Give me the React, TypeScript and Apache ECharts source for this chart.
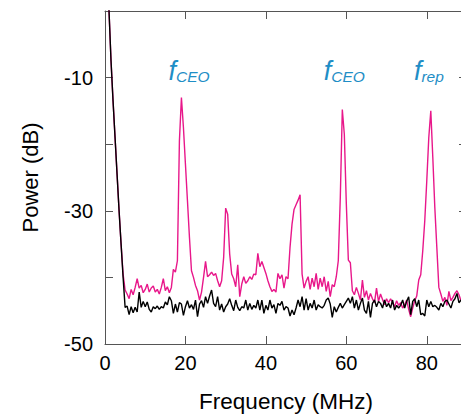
import React, { useEffect, useRef } from "react";
import * as echarts from "echarts";

// Sampling grid of the spectra (MHz)
const FREQ_START = 0;
const FREQ_STEP = 0.5;

// Power (dB) with the comb lines (pink)
const powerLocked = [
  12, 6, 0, -7.5, -13.5, -19, -24.5, -30, -35, -39.5,
  -41.9, -42.5, -43.2, -41.8, -42.6, -41.5, -40.2, -41.6, -41.2, -42.3,
  -41.8, -41, -42.2, -41.6, -41.3, -42.2, -41.8, -42.5, -41.5, -40.2,
  -42, -41.4, -42.3, -41.5, -38.8, -39.2, -37.5, -19.5, -13, -17.5,
  -23, -28.5, -34, -39, -40, -41.2, -42, -43.4, -42.2, -40,
  -37.6, -39.9, -39.6, -39.2, -39.7, -39.4, -40.5, -41.4, -40.5, -37,
  -29.6, -30.5, -36.5, -39.5, -40.2, -41.4, -38.1, -42.9, -41, -39.9,
  -40.9, -40.5, -39.9, -40.3, -39.5, -39.6, -36.4, -38.4, -37.6, -38.5,
  -39.4, -40.5, -41.4, -42.1, -41.8, -42.2, -39.4, -40.2, -39.6, -41.6,
  -39.9, -40.2, -35.5, -32, -29.8, -29.1, -28.4, -27.6, -39.5, -41.6,
  -40.6, -39.9, -41.8, -40.1, -41.4, -39.4, -41.8, -40.1, -41.4, -39.9,
  -42.1, -40.6, -42.9, -41.1, -41.4, -39.9, -37.5, -28, -14.8, -18.5,
  -29, -37.4, -37.8, -42, -42.6, -41.5, -42.4, -43.4, -40.4, -43,
  -42, -43.4, -42.4, -43.2, -43.8, -41.6, -43.6, -42.5, -43.3, -44.1,
  -43.2, -43.8, -43.2, -43.8, -44.4, -43.5, -44.2, -43.8, -44.6, -44.1,
  -43.4, -44.8, -45.9, -44.6, -43.5, -42.8, -40.4, -39.6, -36, -31.5,
  -25.5, -19, -15, -22, -29.5, -35.5, -41.5, -42.5, -43.6, -43,
  -44.2, -42.1, -43.5, -43, -42.4, -42, -42.6, -43.5, -42.8,
];

// Power (dB) background (black)
const powerBackground = [
  12, 6, 0, -7.5, -13.5, -19, -24.5, -30, -35, -40,
  -44.5, -44.3, -45.6, -44.4, -45.3, -44.5, -45.2, -42.2, -44.5, -43.6,
  -44.4, -43.7, -44.8, -45.2, -44.4, -44.7, -44.3, -44.8, -44.4, -44.6,
  -43.7, -44.1, -42.9, -43.5, -45.4, -44, -45.2, -43.8, -44, -45.7,
  -44.4, -43.5, -44.6, -44.1, -44.8, -43.4, -45.9, -44, -43.5, -44.5,
  -42.9, -43.9, -42.8, -41.9, -43.9, -44.4, -42.9, -44.9, -44, -45.2,
  -44.4, -44, -43.2, -44.2, -45, -43.4, -44.5, -45, -44.4, -44.6,
  -43.4, -44.9, -43.9, -44.8, -44.2, -44.6, -43.4, -44.9, -43.4, -45.4,
  -44.2, -44.9, -43.4, -44.6, -44.1, -45.4, -43.9, -44.2, -43.6, -44.9,
  -44.4, -44.6, -45.8, -44.9, -45.6, -44.6, -43.4, -44.4, -42.9, -44.9,
  -43.2, -44.9, -43.9, -44.6, -43.4, -44.9, -44.1, -44.4, -44.6, -44.2,
  -43.4, -43.1, -44, -46, -44.4, -45.2, -44.5, -43.9, -44.6, -44.1,
  -43.6, -43.1, -43.9, -42.9, -44.6, -43.4, -44.9, -43.9, -43.1, -44.9,
  -45.4, -43.6, -46, -43.9, -43.4, -44.4, -43.6, -43.9, -44.6, -43.4,
  -44.4, -43.9, -44.6, -43.4, -44.9, -44.2, -44.6, -44.2, -43.4, -44.6,
  -43.6, -42.9, -45.6, -43.6, -43.2, -44.4, -43.4, -45.6, -45.4, -45.8,
  -43.4, -44.4, -43.6, -44.4, -44.2, -44.5, -44.9, -43.9, -44.4, -43.6,
  -43.4, -44, -44.6, -43.6, -43.2, -42.4, -43.8, -43.4, -43.9,
];

// Peak annotations (anchor = baseline-left of the "f", in data units)
const annoSub = ["CEO", "CEO", "rep"];
const annoFreq = [15.8, 54.4, 76.8];
const annoPower = [-10.4, -10.4, -10.4];

const X_TICKS = { min: 0, max: 90, interval: 20 };
const Y_TICKS = { min: -50, max: 0, interval: 10 };

const FONT = "Liberation Sans, Arial, Helvetica, sans-serif";
const PINK = "#e8178a";
const BLUE = "#1f8ec6";
const AXIS = "#555555";

const toPairs = (vals: number[]) =>
  vals.map((v, i) => [FREQ_START + i * FREQ_STEP, v]);

export default function App() {
  const ref = useRef<HTMLDivElement>(null);

  useEffect(() => {
    if (!ref.current) return;
    const chart = echarts.init(ref.current, null, { renderer: "svg" });

    const axisLine = { show: true, onZero: false, lineStyle: { color: AXIS, width: 1 } };
    const axisTick = { show: true, inside: true, length: 8, lineStyle: { color: AXIS, width: 1 } };

    const option: any = {
      animation: false,
      backgroundColor: "#ffffff",
      textStyle: { fontFamily: FONT },
      grid: { left: 105, top: 11, right: 3, bottom: 74, containLabel: false, outerBoundsMode: "none" },
      xAxis: [
        {
          type: "value",
          ...X_TICKS,
          position: "bottom",
          axisLine,
          axisTick,
          splitLine: { show: false },
          axisLabel: { color: "#000", fontSize: 20, margin: 9, fontFamily: FONT, showMaxLabel: false },
          name: "Frequency (MHz)",
          nameLocation: "middle",
          nameGap: 46,
          nameTextStyle: { color: "#000", fontSize: 22.5, fontFamily: FONT },
        },
        {
          type: "value",
          ...X_TICKS,
          position: "top",
          axisLine,
          axisTick,
          splitLine: { show: false },
          axisLabel: { show: false },
        },
      ],
      yAxis: [
        {
          type: "value",
          ...Y_TICKS,
          position: "left",
          axisLine,
          axisTick,
          splitLine: { show: false },
          axisLabel: {
            color: "#000",
            fontSize: 20,
            margin: 12,
            fontFamily: FONT,
            formatter: (v: number) => (Math.abs(v) % 20 === 10 ? String(v) : ""),
          },
          name: "Power (dB)",
          nameLocation: "middle",
          nameGap: 64,
          nameTextStyle: { color: "#000", fontSize: 22, fontFamily: FONT },
        },
        {
          type: "value",
          ...Y_TICKS,
          position: "right",
          axisLine,
          axisTick,
          splitLine: { show: false },
          axisLabel: { show: false },
        },
      ],
      series: [
        {
          type: "line",
          data: toPairs(powerLocked),
          xAxisIndex: 0,
          yAxisIndex: 0,
          showSymbol: false,
          symbol: "none",
          lineStyle: { color: PINK, width: 1.4 },
          itemStyle: { color: PINK },
          clip: true,
          z: 2,
        },
        {
          type: "line",
          data: toPairs(powerBackground),
          xAxisIndex: 0,
          yAxisIndex: 0,
          showSymbol: false,
          symbol: "none",
          lineStyle: { color: "#000000", width: 1.4 },
          itemStyle: { color: "#000000" },
          clip: true,
          z: 3,
        },
      ],
    };

    chart.setOption(option);

    const graphics = annoFreq.map((f, i) => {
      const [px, py] = chart.convertToPixel({ xAxisIndex: 0, yAxisIndex: 0 }, [f, annoPower[i]]) as number[];
      return {
        type: "text",
        x: px,
        y: py + 4.3,
        style: {
          text: "{f|f}{s|" + annoSub[i] + "}",
          fill: BLUE,
          align: "left",
          verticalAlign: "bottom",
          rich: {
            f: {
              fontSize: 27,
              fontStyle: "italic",
              fontFamily: FONT,
              fill: BLUE,
            },
            s: {
              fontSize: 15.5,
              fontStyle: "italic",
              fontFamily: FONT,
              fill: BLUE,
              verticalAlign: "bottom",
            },
          },
        },
      };
    });
    chart.setOption({ graphic: graphics });

    return () => chart.dispose();
  }, []);

  return (
    <div
      style={{
        position: "fixed",
        left: 0,
        top: 0,
        width: 461,
        height: 418,
        overflow: "hidden",
        background: "#fff",
      }}
    >
      <div ref={ref} style={{ width: 470, height: 418 }} />
    </div>
  );
}
